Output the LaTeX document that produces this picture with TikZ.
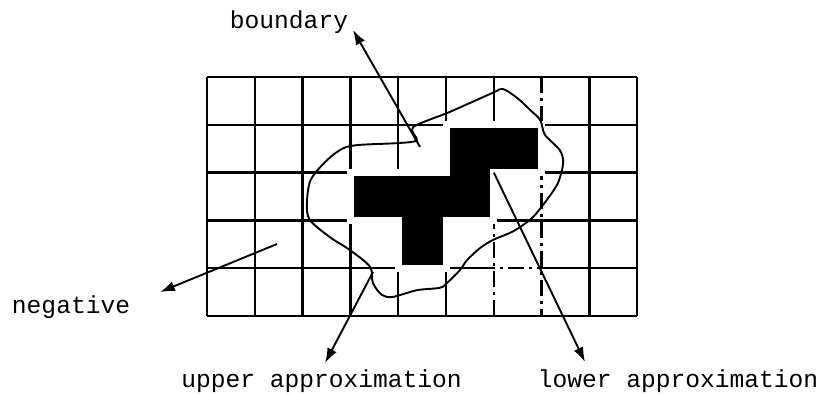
\documentclass[tikz,border=0pt]{standalone}
\usepackage{fontspec}
\setmonofont{Liberation Mono}
\usetikzlibrary{arrows.meta}
\tikzset{
  gridln/.style={line width=1.25pt, black},
  gridbrk/.style={line width=1.25pt, black, dash pattern=on 8pt off 2.5pt on 1.5pt off 2.5pt},
  lowcell/.style={fill=black, draw=white, line width=3.5pt, line join=miter},
  lbl/.style={font=\ttfamily\fontsize{12.3}{14}\selectfont, inner sep=0pt, anchor=base},
  ptrarr/.style={-{Latex[length=2.6mm,width=1.8mm]}, line width=0.95pt},
}
\begin{document}
\begin{tikzpicture}[x=23.9pt,y=23.9pt]
\useasboundingbox (-4.331,-1.632) rectangle (13.033,6.611);
% 9x5 grid of cells
\foreach \c in {0,1,2,3,4,5,8,9}{
  \draw[gridln] (\c,0) -- (\c,5);
}
\draw[gridln] (6,2) -- (6,5);
\draw[gridbrk] (6,0) -- (6,2);
\draw[gridbrk] (7,5) -- (7,0);
\foreach \r in {0,2,3,4,5}{
  \draw[gridln] (0,\r) -- (9,\r);
}
\draw[gridln] (0,1) -- (5.7,1);
\draw[gridbrk] (5.7,1) -- (7,1);
\draw[gridln] (7,1) -- (9,1);
% lower approximation (black cells)
\draw[lowcell] (5,4) -- (7,4) -- (7,3) -- (6,3) -- (6,2) -- (5,2) -- (5,1)
  -- (4,1) -- (4,2) -- (3,2) -- (3,3) -- (5,3) -- cycle;
% the set itself
\draw[line width=0.95pt] plot[smooth cycle, tension=0.5] coordinates {
  (4.39,3.68) (4.04,3.62) (3.20,3.58) (2.85,3.51) (2.51,3.26) (2.17,2.85)
  (2.09,2.36) (2.15,2.01) (2.57,1.65) (2.99,1.38) (3.41,1.03) (3.47,0.69)
  (3.66,0.44) (3.89,0.40) (4.39,0.54) (4.87,0.59) (5.02,0.69) (5.29,0.96)
  (5.44,1.17) (5.71,1.42) (5.98,1.59) (6.34,1.74) (6.55,1.86) (6.82,2.07)
  (7.11,2.43) (7.34,2.78) (7.45,3.20) (7.38,3.47) (7.07,3.79) (6.97,4.10)
  (6.76,4.31) (6.49,4.56) (6.19,4.75) (5.98,4.67) (5.08,4.27) (4.31,3.95)};
% labels
\node[lbl] (bnd) at (1.715,6.025) {boundary};
\node[lbl] (neg) at (-2.845,0.06) {negative};
\node[lbl] (upp) at (2.395,-1.506) {upper approximation};
\node[lbl] (low) at (9.854,-1.506) {lower approximation};
% arrow ends
\coordinate (bndtail) at (4.456,3.536);
\coordinate (bndtip) at (3.054,5.983);
\coordinate (negtail) at (1.464,1.506);
\coordinate (negtip) at (-0.983,0.502);
\coordinate (upptail) at (3.473,0.921);
\coordinate (upptip) at (2.469,-0.983);
\coordinate (lowtail) at (6,3);
\coordinate (lowtip) at (7.908,-0.962);
\draw[ptrarr] (bndtail) -- (bndtip);
\draw[ptrarr] (negtail) -- (negtip);
\draw[ptrarr] (upptail) -- (upptip);
\draw[ptrarr] (lowtail) -- (lowtip);
\end{tikzpicture}
\end{document}
